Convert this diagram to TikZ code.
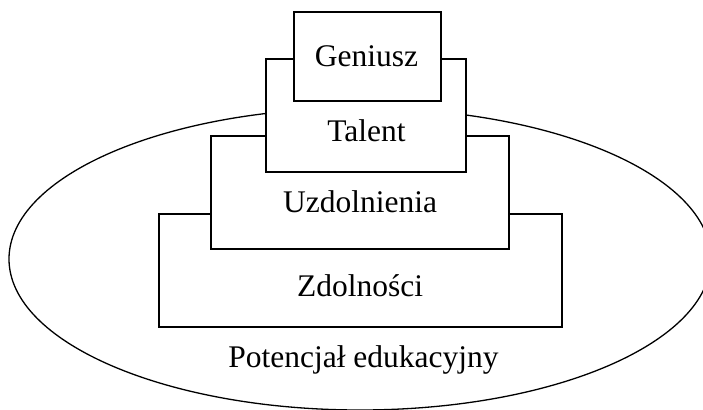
\documentclass[tikz,border=0pt]{standalone}
\usepackage{fontspec}
\setmainfont{Liberation Serif}
\usetikzlibrary{shapes.geometric}
\begin{document}
\begin{tikzpicture}[x=1pt,y=-1pt,
  level/.style={draw, line width=1.5pt, fill=white, rectangle, inner sep=0pt, outer sep=0pt, minimum width=#1},
  caption/.style={anchor=base, inner sep=0pt, font=\fontsize{31.5}{38}\selectfont}]
\useasboundingbox (0,0) rectangle (703,409);
% outer potential
\node[draw, line width=1.3pt, ellipse, inner sep=0pt, outer sep=0pt,
      minimum width=702pt, minimum height=302pt] (pot) at (360,259) {};
% stacked levels, drawn from the bottom up
\node[level=403pt, minimum height=113pt] (zdol) at (360.5,270.5) {};
\node[level=298pt, minimum height=113pt] (uzd)  at (360,192.5) {};
\node[level=200pt, minimum height=113pt] (tal)  at (366,115.5) {};
\node[level=147pt, minimum height=89pt]  (gen)  at (367.5,56.5) {};
% labels
\node[caption] (tgen)  at (366.5,67)  {Geniusz};
\node[caption] (ttal)  at (366.5,141) {Talent};
\node[caption] (tuzd)  at (360,212.5) {Uzdolnienia};
\node[caption] (tzdol) at (360,296.5) {Zdolności};
\node[caption] (tpot)  at (363.5,367) {Potencjał edukacyjny};
\end{tikzpicture}
\end{document}
